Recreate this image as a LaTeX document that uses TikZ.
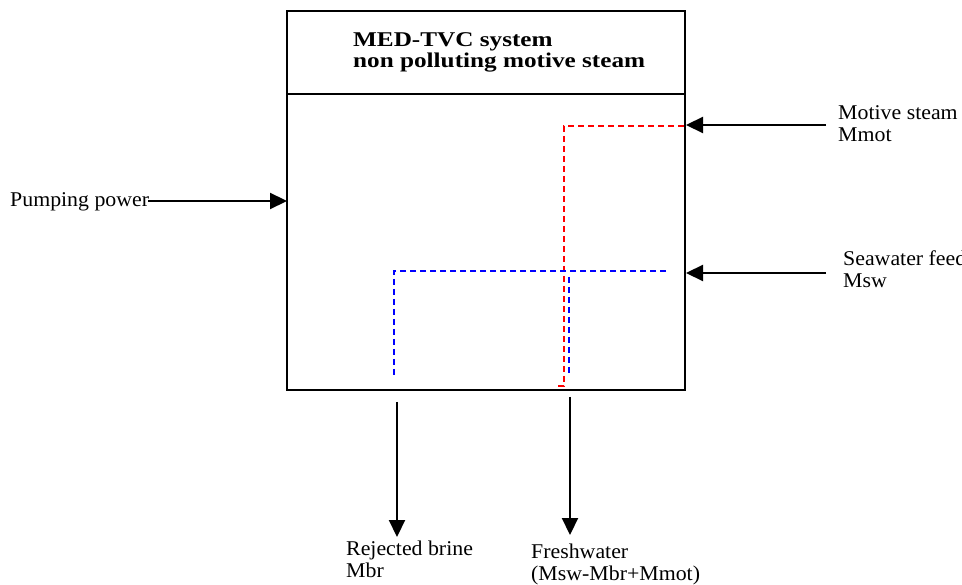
\documentclass[tikz,border=0pt]{standalone}
\usepackage{fontspec}
\setmainfont{Liberation Serif}
\newfontfamily\labelfont[FakeStretch=1.04]{Liberation Serif}
\newfontfamily\titlefont[FakeStretch=1.2]{Liberation Serif}
\usetikzlibrary{arrows.meta}
\begin{document}
\begin{tikzpicture}[x=1pt,y=-1pt,
  flow/.style={line width=2.2pt,-{Triangle[length=17pt,width=16pt]}},
  boxline/.style={line width=2.8pt},
  steamline/.style={red,line width=2.4pt,dash pattern=on 6pt off 4pt},
  waterline/.style={blue,line width=2.4pt,dash pattern=on 6pt off 4pt},
  lbl/.style={font=\labelfont\fontsize{21}{22}\selectfont,align=left,inner sep=0pt}]
\useasboundingbox (0,0) rectangle (962,585);
\clip (0,0) rectangle (962,585);

% system boundary and title panel
\draw[boxline] (287,11) rectangle (685,390);
\draw[boxline] (287,94) -- (685,94);
% multi-line nodes: the base anchor sits on the last line
\node[lbl,anchor=base west,font=\titlefont\bfseries\fontsize{21}{21}\selectfont] (title) at (353,68)
  {MED-TVC system\\non polluting motive steam};

% coordinates on the boundary
\coordinate (inPump) at (287,201);
\coordinate (inMot) at (686,125);
\coordinate (inSw) at (686,273);
\coordinate (outBr) at (397,402);
\coordinate (outFw) at (570,397);

% labels
\node[lbl,anchor=base west] (pump) at (10,207) {Pumping power};
\node[lbl,anchor=base west] (mot) at (838,142) {Motive steam\\Mmot};
\node[lbl,anchor=base west] (sw) at (843,288) {Seawater feed\\Msw};
\node[lbl,anchor=base west] (br) at (346,577) {Rejected brine\\Mbr};
\node[lbl,anchor=base west] (fw) at (531,580) {Freshwater\\(Msw-Mbr+Mmot)};

% external streams
\coordinate (pumpTail) at (148,201);
\coordinate (motTail) at (826,125);
\coordinate (swTail) at (826,273);
\coordinate (brTip) at (397,537);
\coordinate (fwTip) at (570,535);
\draw[flow] (pumpTail) -- (inPump);
\draw[flow] (motTail) -- (inMot);
\draw[flow] (swTail) -- (inSw);
\draw[flow] (outBr) -- (brTip);
\draw[flow] (outFw) -- (fwTip);

% internal paths
\draw[steamline] (684,126) -| (564,386) -- (558,386);
\draw[waterline] (666,271) -- (394,271) -- (394,378);
\draw[waterline] (569,277) -- (569,376);
\end{tikzpicture}
\end{document}
